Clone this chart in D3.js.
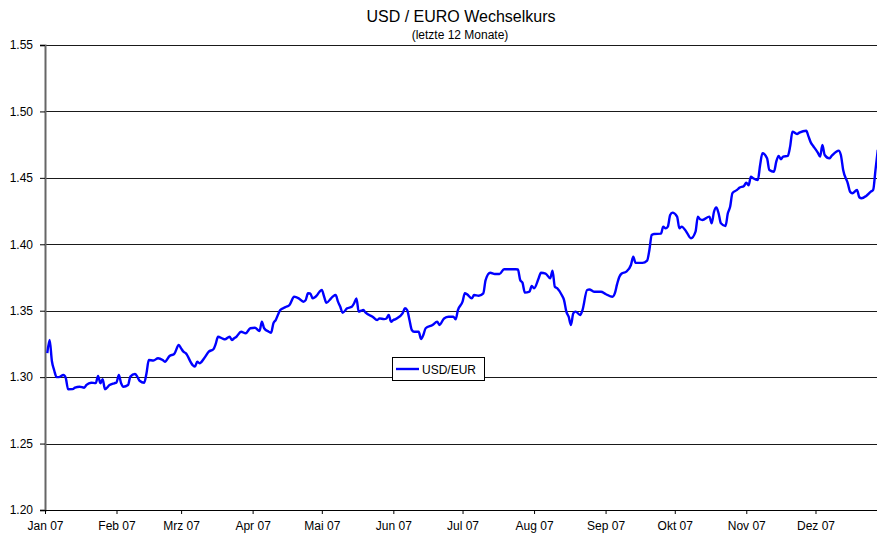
<!DOCTYPE html>
<html>
<head>
<meta charset="utf-8">
<script src="https://cdn.jsdelivr.net/npm/d3@7"></script>
<style>
  body { margin: 0; background: #fff; }
  svg text { font-family: "Liberation Sans", Arial, sans-serif; fill: #000; }
</style>
</head>
<body>
<div id="chart"></div>
<script>
// USD/EUR exchange rate
const dates = [
  "01-02","01-03","01-04","01-05","01-06","01-07","01-09","01-10","01-11","01-13",
  "01-14","01-16","01-18","01-19","01-21","01-23","01-24","01-25","01-26","01-27",
  "01-29","01-31","02-01","02-02","02-03","02-04","02-06","02-07","02-09","02-10",
  "02-11","02-13","02-14","02-15","02-17","02-19","02-21","02-22","02-24","02-26",
  "02-28","03-01","03-02","03-03","03-06","03-07","03-08","03-09","03-11","03-13",
  "03-15","03-16","03-17","03-19","03-20","03-22","03-23","03-24","03-25","03-27",
  "03-29","03-31","04-02","04-04","04-05","04-06","04-08","04-09","04-10","04-11",
  "04-13","04-15","04-17","04-19","04-21","04-23","04-24","04-25","04-26","04-27",
  "04-29","04-30","05-01","05-02","05-03","05-05","05-06","05-07","05-08","05-09",
  "05-10","05-12","05-14","05-15","05-16","05-17","05-18","05-19","05-20","05-23",
  "05-25","05-26","05-28","05-29","05-30","05-31","06-01","06-02","06-05","06-06",
  "06-07","06-08","06-09","06-10","06-12","06-13","06-14","06-15","06-18","06-20",
  "06-21","06-23","06-25","06-27","06-28","06-29","07-01","07-02","07-03","07-05",
  "07-06","07-08","07-10","07-11","07-13","07-15","07-17","07-19","07-22","07-24",
  "07-25","07-26","07-27","07-28","07-30","07-31","08-01","08-03","08-04","08-06",
  "08-08","08-09","08-10","08-11","08-13","08-14","08-15","08-16","08-17","08-18",
  "08-19","08-21","08-22","08-24","08-25","08-27","08-29","08-30","09-01","09-04",
  "09-05","09-06","09-07","09-08","09-10","09-12","09-13","09-14","09-17","09-19",
  "09-20","09-21","09-22","09-25","09-26","09-27","09-28","09-29","09-30","10-02",
  "10-03","10-04","10-06","10-08","10-10","10-11","10-12","10-13","10-16","10-17",
  "10-18","10-19","10-20","10-21","10-23","10-24","10-25","10-26","10-28","10-29",
  "10-31","11-01","11-02","11-03","11-04","11-06","11-07","11-08","11-10","11-11",
  "11-13","11-14","11-15","11-16","11-17","11-19","11-20","11-21","11-23","11-24",
  "11-27","11-28","11-29","11-30","12-02","12-03","12-04","12-05","12-07","12-08",
  "12-10","12-11","12-12","12-13","12-15","12-16","12-17","12-19","12-20","12-21",
  "12-23","12-25","12-26","12-27","12-28"
];
const rates = [
  1.318,1.328,1.312,1.305,1.300,1.300,1.3016,1.2994,1.2909,1.291,
  1.2921,1.2928,1.292,1.2941,1.2958,1.2955,1.3009,1.2954,1.2984,1.2909,
  1.294,1.2954,1.296,1.3016,1.2954,1.2928,1.2941,1.3004,1.3024,1.3004,
  1.2973,1.2958,1.3029,1.3129,1.3125,1.3142,1.3129,1.3116,1.3159,1.3174,
  1.3242,1.3217,1.3192,1.318,1.3091,1.3079,1.3116,1.3104,1.3142,1.3192,
  1.321,1.325,1.3304,1.329,1.3285,1.3304,1.328,1.3292,1.3304,1.3342,
  1.333,1.3368,1.3372,1.3347,1.3417,1.3368,1.3342,1.3334,1.3405,1.343,
  1.3505,1.3525,1.3543,1.3605,1.3593,1.3568,1.358,1.3631,1.363,1.3593,
  1.3618,1.3643,1.3656,1.3605,1.356,1.3593,1.361,1.3618,1.3568,1.353,
  1.3485,1.3518,1.353,1.3556,1.3593,1.3493,1.350,1.3505,1.3485,1.3455,
  1.343,1.3442,1.3437,1.3442,1.3468,1.3417,1.343,1.3437,1.348,1.3518,
  1.3505,1.343,1.3355,1.3342,1.3342,1.3287,1.3317,1.3368,1.3393,1.3417,
  1.3393,1.3442,1.3455,1.3455,1.3435,1.3505,1.3568,1.3631,1.3623,1.3593,
  1.3618,1.3613,1.3631,1.3731,1.3786,1.3776,1.3776,1.3812,1.3812,1.3812,
  1.381,1.3731,1.371,1.3636,1.3643,1.3686,1.3668,1.3744,1.3786,1.378,
  1.3744,1.3801,1.3681,1.367,1.3618,1.358,1.3493,1.3455,1.3393,1.348,
  1.3493,1.3468,1.3505,1.3656,1.366,1.3643,1.3643,1.3643,1.3626,1.3605,
  1.363,1.370,1.3756,1.378,1.3794,1.3844,1.3907,1.386,1.386,1.3877,
  1.3957,1.407,1.4077,1.408,1.4133,1.412,1.4133,1.422,1.4238,1.4208,
  1.412,1.4133,1.4095,1.4045,1.4095,1.4208,1.4188,1.4183,1.4208,1.4158,
  1.4245,1.4278,1.4233,1.4158,1.4138,1.4233,1.4283,1.4385,1.4409,1.4425,
  1.4439,1.4464,1.4444,1.4509,1.4497,1.4484,1.4597,1.4685,1.4647,1.4559,
  1.4546,1.4622,1.4665,1.464,1.466,1.4665,1.4735,1.4848,1.483,1.484,
  1.4855,1.481,1.4765,1.474,1.469,1.466,1.4747,1.4672,1.4647,1.4665,
  1.4697,1.4705,1.4672,1.4559,1.4459,1.4396,1.4384,1.4409,1.4354,1.4346,
  1.4364,1.4396,1.4409,1.4559,1.471
];
const monthLabels = ["Jan 07","Feb 07","Mrz 07","Apr 07","Mai 07","Jun 07",
                     "Jul 07","Aug 07","Sep 07","Okt 07","Nov 07","Dez 07"];
const yTicks = [1.20,1.25,1.30,1.35,1.40,1.45,1.50,1.55];

const width = 877, height = 539;
const margin = { top: 45, right: -10, bottom: 29, left: 45 };

const parse = d3.timeParse("%Y-%m-%d");
const data = dates.map((d, i) => ({ date: parse("2007-" + d), value: rates[i] }));

const svg = d3.select("#chart").append("svg")
    .attr("width", width)
    .attr("height", height);

const x = d3.scaleTime()
    .domain([new Date(2007, 0, 1), new Date(2008, 0, 1)])
    .range([margin.left, width - margin.right]);

const y = d3.scaleLinear()
    .domain([1.20, 1.55])
    .range([height - margin.bottom, margin.top]);

// title
svg.append("text")
    .attr("x", 461).attr("y", 22)
    .attr("text-anchor", "middle")
    .style("font-size", "16px")
    .text("USD / EURO Wechselkurs");
svg.append("text")
    .attr("x", 460).attr("y", 39)
    .attr("text-anchor", "middle")
    .style("font-size", "12px")
    .text("(letzte 12 Monate)");

// horizontal gridlines
svg.append("g")
    .selectAll("line")
    .data(yTicks.slice(1))
    .enter().append("line")
    .attr("x1", margin.left)
    .attr("x2", width - margin.right)
    .attr("y1", d => Math.round(y(d)) + 0.5)
    .attr("y2", d => Math.round(y(d)) + 0.5)
    .attr("stroke", "#1a1a1a")
    .attr("stroke-width", 1);

// y axis
let yAxis = svg.append("g")
    .attr("transform", "translate(" + margin.left + ",0)")
    .call(d3.axisLeft(y).tickValues(yTicks).tickFormat(d3.format(".2f")).tickSize(5).tickPadding(7));

// x axis, one tick per month
const months = d3.timeMonths(new Date(2007, 0, 1), new Date(2007, 11, 2));
let xAxis = svg.append("g")
    .attr("transform", "translate(0," + y(1.20) + ")")
    .call(d3.axisBottom(x).tickValues(months).tickFormat((d, i) => monthLabels[i]).tickSize(4).tickPadding(7));

[xAxis, yAxis].forEach(a => {
    a.select(".domain").attr("stroke", "#000").attr("stroke-width", 1);
    a.selectAll(".tick line").attr("stroke", "#000");
    a.selectAll("text").style("font-size", "12px").attr("fill", "#000");
});
yAxis.select(".domain").attr("stroke", "#666").attr("stroke-width", 2);
// x axis line runs to the right edge
xAxis.select(".domain").attr("d", "M" + margin.left + ",0.5H" + width);

// the rate line
let line = d3.line()
    .curve(d3.curveMonotoneX)
    .x(d => x(d.date))
    .y(d => y(d.value));

svg.append("path")
    .datum(data)
    .attr("fill", "none")
    .attr("stroke", "#0000ff")
    .attr("stroke-width", 2.4)
    .attr("stroke-linejoin", "round")
    .attr("d", line);

// legend
let legend = svg.append("g").attr("transform", "translate(392,357)");
legend.append("rect")
    .attr("x", 0.5).attr("y", 0.5)
    .attr("width", 92).attr("height", 23)
    .attr("fill", "#fff")
    .attr("stroke", "#000");
legend.append("line")
    .attr("x1", 4).attr("x2", 27)
    .attr("y1", 12).attr("y2", 12)
    .attr("stroke", "#0000ff")
    .attr("stroke-width", 2.4);
legend.append("text")
    .attr("x", 30).attr("y", 16.5)
    .style("font-size", "12px")
    .text("USD/EUR");
</script>
</body>
</html>
